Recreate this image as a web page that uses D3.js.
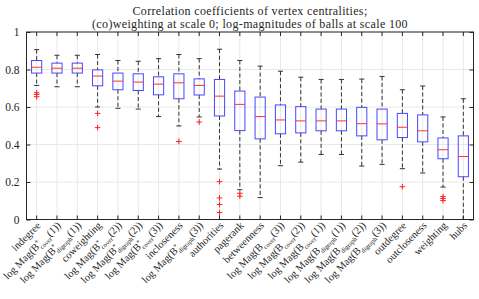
<!DOCTYPE html>
<html lang="en">
<head>
<meta charset="utf-8">
<title>Correlation coefficients box plot</title>
<script src="https://d3js.org/d3.v7.min.js"></script>
<style>
  body { margin: 0; background: #fff; }
  text { font-family: "Liberation Serif", "DejaVu Serif", serif; fill: #262626; }
</style>
</head>
<body>
<script>
// data
const categories = [
  "indegree", "log Mag(B*_cover(1))", "log Mag(B*_digraph(1))", "coweighting",
  "log Mag(B*_cover(2))", "log Mag(B*_digraph(2))", "log Mag(B*_cover(3))", "incloseness",
  "log Mag(B*_digraph(3))", "authorities", "pagerank", "betweenness",
  "log Mag(B_cover(3))", "log Mag(B_cover(2))", "log Mag(B_cover(1))", "log Mag(B_digraph(1))",
  "log Mag(B_digraph(2))", "log Mag(B_digraph(3))", "outdegree", "outcloseness",
  "weighting", "hubs"
];
const whiskerHigh = [0.906, 0.876, 0.876, 0.880, 0.848, 0.844, 0.858, 0.880, 0.858, 0.908, 0.848,
                     0.818, 0.791, 0.759, 0.747, 0.747, 0.749, 0.763, 0.692, 0.712, 0.547, 0.644];
const q3 = [0.848, 0.834, 0.834, 0.798, 0.781, 0.777, 0.761, 0.777, 0.750, 0.747, 0.685,
            0.653, 0.611, 0.602, 0.589, 0.589, 0.598, 0.589, 0.566, 0.558, 0.435, 0.446];
const medians = [0.812, 0.807, 0.807, 0.765, 0.738, 0.733, 0.722, 0.729, 0.715, 0.658, 0.614,
                 0.549, 0.531, 0.526, 0.526, 0.526, 0.511, 0.510, 0.492, 0.473, 0.372, 0.336];
const q1 = [0.781, 0.781, 0.781, 0.713, 0.692, 0.688, 0.665, 0.644, 0.664, 0.552, 0.474,
            0.430, 0.457, 0.462, 0.473, 0.473, 0.446, 0.425, 0.437, 0.414, 0.324, 0.228];
const whiskerLow = [0.715, 0.708, 0.708, 0.600, 0.593, 0.589, 0.549, 0.499, 0.547, 0.269, 0.159,
                    0.117, 0.287, 0.306, 0.347, 0.347, 0.285, 0.294, 0.271, 0.248, 0.173, 0.0];
const outliers = [
  [0.676, 0.667, 0.655], [], [], [0.566, 0.490], [], [], [], [0.416],
  [0.520], [0.202, 0.115, 0.080, 0.037], [0.140, 0.124], [], [], [], [], [],
  [], [], [0.175], [], [0.122, 0.112, 0.101], []
];
const yTicks = [0, 0.2, 0.4, 0.6, 0.8, 1];

const width = 479, height = 299;
const plotL = 26.5, plotR = 473.5, plotT = 32, plotB = 219.5;

const svg = d3.select("body").append("svg")
  .attr("width", width).attr("height", height);

const x = d3.scaleBand().domain(categories).range([plotL, plotR]);
const y = d3.scaleLinear().domain([0, 1]).range([plotB, plotT]);
const cx = d => x(d) + x.bandwidth() / 2;
const boxW = x.bandwidth() * 0.5;
const capW = x.bandwidth() * 0.25;

// grid
svg.append("g").selectAll("line").data(categories).join("line")
  .attr("x1", cx).attr("x2", cx).attr("y1", plotT).attr("y2", plotB)
  .attr("stroke", "#e8e8e8").attr("stroke-width", 1);
svg.append("g").selectAll("line").data(yTicks).join("line")
  .attr("x1", plotL).attr("x2", plotR).attr("y1", d => y(d)).attr("y2", d => y(d))
  .attr("stroke", "#e8e8e8").attr("stroke-width", 1);

// boxes
const stats = categories.map((c, i) => ({
  c, hi: whiskerHigh[i], q3: q3[i], med: medians[i], q1: q1[i], lo: whiskerLow[i], out: outliers[i]
}));

const g = svg.append("g");
g.selectAll(".whi").data(stats).join("line")
  .attr("x1", d => cx(d.c)).attr("x2", d => cx(d.c))
  .attr("y1", d => y(d.hi)).attr("y2", d => y(d.q3))
  .attr("stroke", "#333").attr("stroke-width", 1).attr("stroke-dasharray", "4,2.5");
g.selectAll(".wlo").data(stats).join("line")
  .attr("x1", d => cx(d.c)).attr("x2", d => cx(d.c))
  .attr("y1", d => y(d.q1)).attr("y2", d => y(d.lo))
  .attr("stroke", "#333").attr("stroke-width", 1).attr("stroke-dasharray", "4,2.5");
g.selectAll(".caphi").data(stats).join("line")
  .attr("x1", d => cx(d.c) - capW / 2).attr("x2", d => cx(d.c) + capW / 2)
  .attr("y1", d => y(d.hi)).attr("y2", d => y(d.hi))
  .attr("stroke", "#333").attr("stroke-width", 1);
g.selectAll(".caplo").data(stats).join("line")
  .attr("x1", d => cx(d.c) - capW / 2).attr("x2", d => cx(d.c) + capW / 2)
  .attr("y1", d => y(d.lo)).attr("y2", d => y(d.lo))
  .attr("stroke", "#333").attr("stroke-width", 1);
g.selectAll(".box").data(stats).join("rect")
  .attr("x", d => cx(d.c) - boxW / 2).attr("width", boxW)
  .attr("y", d => y(d.q3)).attr("height", d => y(d.q1) - y(d.q3))
  .attr("fill", "none").attr("stroke", "#4747ff").attr("stroke-width", 1);
g.selectAll(".med").data(stats).join("line")
  .attr("x1", d => cx(d.c) - boxW / 2).attr("x2", d => cx(d.c) + boxW / 2)
  .attr("y1", d => y(d.med)).attr("y2", d => y(d.med))
  .attr("stroke", "#ff3030").attr("stroke-width", 1);

// outliers as red plus signs
const outPts = stats.flatMap(d => d.out.map(v => ({ c: d.c, v })));
g.selectAll(".out").data(outPts).join("path")
  .attr("d", d => {
    const px = cx(d.c), py = y(d.v), r = 2.8;
    return `M${px - r},${py}H${px + r}M${px},${py - r}V${py + r}`;
  })
  .attr("stroke", "#ff2020").attr("stroke-width", 1).attr("fill", "none");

// frame and ticks
svg.append("rect")
  .attr("x", plotL).attr("y", plotT).attr("width", plotR - plotL).attr("height", plotB - plotT)
  .attr("fill", "none").attr("stroke", "#262626").attr("stroke-width", 1);

const axB = svg.append("g").attr("transform", `translate(0,${plotB})`)
  .call(d3.axisBottom(x).tickSize(-4).tickFormat(""));
const axT = svg.append("g").attr("transform", `translate(0,${plotT})`)
  .call(d3.axisTop(x).tickSize(-4).tickFormat(""));
const axL = svg.append("g").attr("transform", `translate(${plotL},0)`)
  .call(d3.axisLeft(y).tickValues(yTicks).tickSize(-4).tickPadding(7).tickFormat(d3.format("")));
const axR = svg.append("g").attr("transform", `translate(${plotR},0)`)
  .call(d3.axisRight(y).tickValues(yTicks).tickSize(-4).tickFormat(""));
[axB, axT, axL, axR].forEach(a => {
  a.select(".domain").remove();
  a.selectAll("line").attr("stroke", "#262626");
});
axL.selectAll("text").attr("font-size", "11.5px")
  .style("font-family", "'Liberation Serif', serif").attr("fill", "#262626");

// rotated category labels
const labels = svg.append("g").selectAll("text").data(categories).join("text")
  .attr("transform", d => `translate(${cx(d) + 2},${plotB + 4}) rotate(-45)`)
  .attr("text-anchor", "end")
  .attr("dy", "0.35em")
  .attr("font-size", "10.5px");
labels.each(function (d) {
  const t = d3.select(this);
  const m = d.match(/^log Mag\(B(\*?)_(\w+)\((\d)\)\)$/);
  if (!m) { t.text(d); return; }
  t.append("tspan").text("log Mag(B");
  if (m[1]) t.append("tspan").attr("font-size", "6.5px").attr("dy", "-4").text("*");
  t.append("tspan").attr("font-size", "6.5px").attr("dy", m[1] ? "7" : "3").attr("dx", m[1] ? "-3" : "0").text(m[2]);
  t.append("tspan").attr("dy", "-3").text("(" + m[3] + "))");
});

// title
svg.append("text").attr("x", (plotL + plotR) / 2).attr("y", 15)
  .attr("text-anchor", "middle").attr("font-size", "12px").attr("letter-spacing", "0.35px")
  .text("Correlation coefficients of vertex centralities;");
svg.append("text").attr("x", (plotL + plotR) / 2).attr("y", 28)
  .attr("text-anchor", "middle").attr("font-size", "12px").attr("letter-spacing", "0.35px")
  .text("(co)weighting at scale 0; log-magnitudes of balls at scale 100");
</script>
</body>
</html>
